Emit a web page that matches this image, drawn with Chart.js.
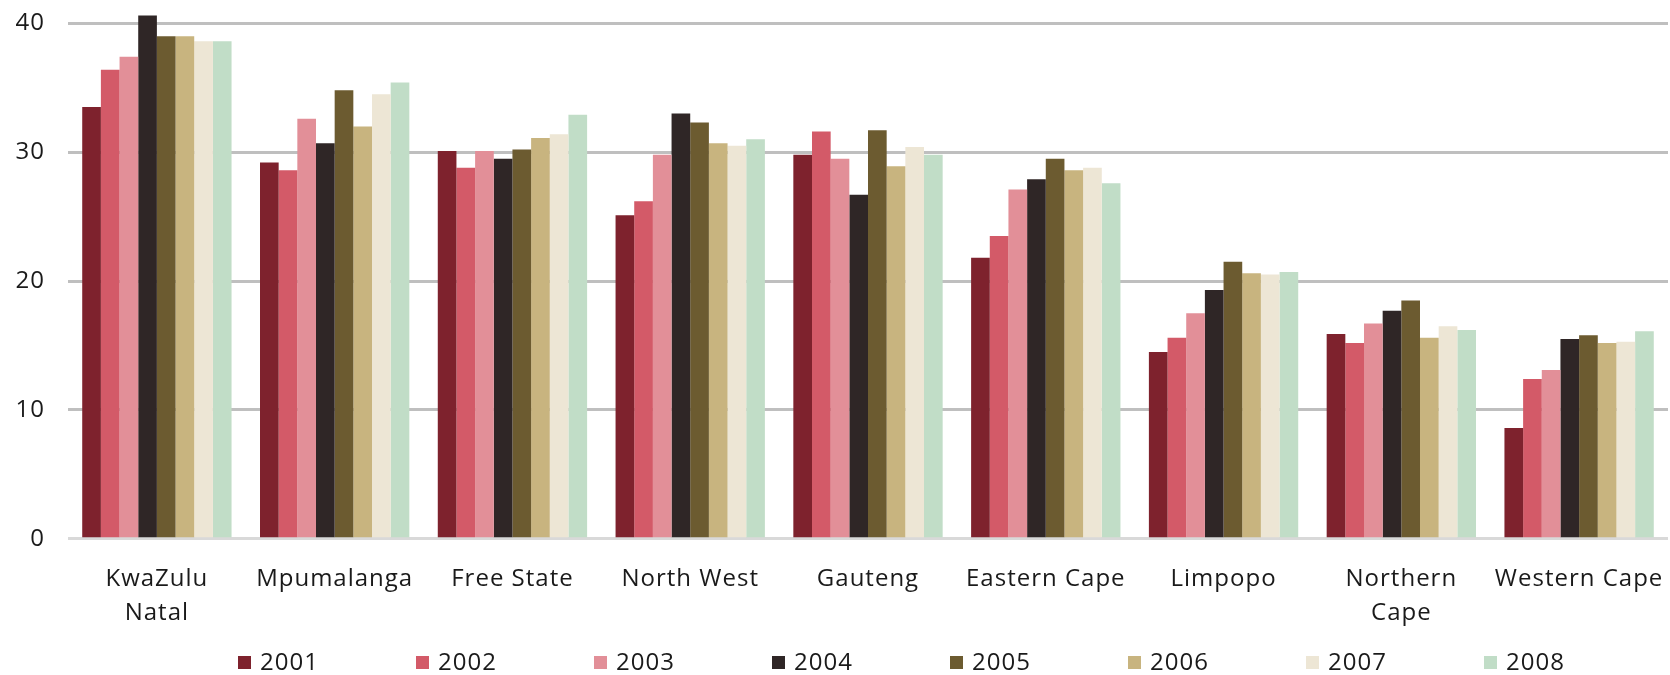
<!DOCTYPE html>
<html>
<head>
<meta charset="utf-8">
<script src="https://cdn.jsdelivr.net/npm/chart.js@4/dist/chart.umd.min.js"></script>
<style>
  html, body { margin: 0; padding: 0; background: #fff; }
  canvas { display: block; }
</style>
</head>
<body>
<canvas id="chart" width="1670" height="675"></canvas>
<script>
const provinces = [
  ["KwaZulu", "Natal"],
  "Mpumalanga",
  "Free State",
  "North West",
  "Gauteng",
  "Eastern Cape",
  "Limpopo",
  ["Northern", "Cape"],
  "Western Cape",
];
const years = ["2001", "2002", "2003", "2004", "2005", "2006", "2007", "2008"];

const values2001 = [33.5, 29.2, 30.1, 25.1, 29.8, 21.8, 14.5, 15.9, 8.6];
const values2002 = [36.4, 28.6, 28.8, 26.2, 31.6, 23.5, 15.6, 15.2, 12.4];
const values2003 = [37.4, 32.6, 30.1, 29.8, 29.5, 27.1, 17.5, 16.7, 13.1];
const values2004 = [40.6, 30.7, 29.5, 33.0, 26.7, 27.9, 19.3, 17.7, 15.5];
const values2005 = [39.0, 34.8, 30.2, 32.3, 31.7, 29.5, 21.5, 18.5, 15.8];
const values2006 = [39.0, 32.0, 31.1, 30.7, 28.9, 28.6, 20.6, 15.6, 15.2];
const values2007 = [38.6, 34.5, 31.4, 30.5, 30.4, 28.8, 20.5, 16.5, 15.3];
const values2008 = [38.6, 35.4, 32.9, 31.0, 29.8, 27.6, 20.7, 16.2, 16.1];

const yTicks = [0, 10, 20, 30, 40];

const series = [values2001, values2002, values2003, values2004, values2005, values2006, values2007, values2008];
const colors = ["#7e222d", "#d35a68", "#e28f98", "#2f2626", "#6c5b30", "#c8b47f", "#ede6d5", "#c1ddc7"];

const textColor = "#1a1a1a";
const fontFamily = '"Open Sans", sans-serif';
const spacingPx = "1px";

// canvas letter spacing, re-applied since a resize wipes the context state
const letterSpacing = {
  id: "letterSpacing",
  beforeUpdate(chart) { chart.ctx.letterSpacing = spacingPx; },
  beforeDraw(chart) { chart.ctx.letterSpacing = spacingPx; },
};

// legend drawn by hand so the items can sit far apart
const bottomLegend = {
  id: "bottomLegend",
  afterDraw(chart) {
    const { ctx, chartArea } = chart;
    ctx.save();
    ctx.letterSpacing = spacingPx;
    ctx.font = `24px ${fontFamily}`;
    ctx.textBaseline = "middle";
    ctx.textAlign = "left";
    const y = chart.height - 12.5;
    chart.data.datasets.forEach((ds, i) => {
      const x = chartArea.left + 170 + i * 178;
      ctx.fillStyle = ds.backgroundColor;
      ctx.fillRect(x, y - 6.5, 13, 13);
      ctx.fillStyle = textColor;
      ctx.fillText(ds.label, x + 22, y + 1);
    });
    ctx.restore();
  },
};

new Chart(document.getElementById("chart"), {
  type: "bar",
  data: {
    labels: provinces,
    datasets: years.map((year, i) => ({
      label: year,
      data: series[i],
      backgroundColor: colors[i],
      borderWidth: 0,
      categoryPercentage: 0.84,
      barPercentage: 1.0,
    })),
  },
  options: {
    responsive: false,
    devicePixelRatio: 1,
    animation: false,
    layout: {
      padding: { left: 0, right: 2, top: 4, bottom: 29 },
    },
    plugins: {
      legend: { display: false },
      tooltip: { enabled: false },
      title: { display: false },
    },
    scales: {
      x: {
        afterFit: (scale) => {
          scale.paddingLeft = 0;
          scale.paddingRight = 0;
        },
        grid: { display: false },
        border: { display: false },
        ticks: {
          color: textColor,
          autoSkip: false,
          maxRotation: 0,
          minRotation: 0,
          padding: 16,
          font: { family: fontFamily, size: 24, lineHeight: 1.4 },
        },
      },
      y: {
        min: 0,
        max: 41.5,
        afterBuildTicks: (scale) => {
          scale.ticks = yTicks.map((v) => ({ value: v }));
        },
        afterFit: (scale) => {
          scale.width = 68;
          scale.paddingTop = 0;
          scale.paddingBottom = 0;
        },
        border: { display: false },
        grid: {
          drawTicks: false,
          lineWidth: 3,
          color: (ctx) => (ctx.tick && ctx.tick.value === 0 ? "#d9d9d9" : "#bfbfbf"),
        },
        ticks: {
          color: textColor,
          padding: 23,
          font: { family: fontFamily, size: 24 },
        },
      },
    },
  },
  plugins: [letterSpacing, bottomLegend],
});
</script>
</body>
</html>
